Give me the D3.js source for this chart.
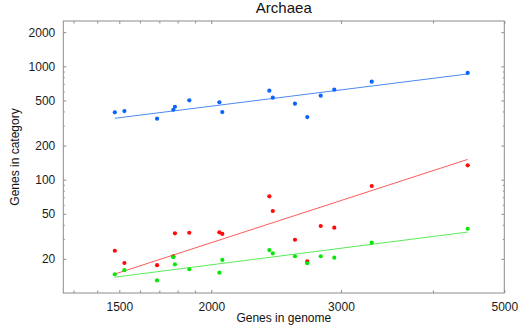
<!DOCTYPE html>
<html><head><meta charset="utf-8">
<script src="https://cdn.jsdelivr.net/npm/d3@7/dist/d3.min.js"></script>
<style>
body{margin:0;background:#fff;}
svg{display:block;font-family:"Liberation Sans",Arial,Helvetica,sans-serif;}
</style></head>
<body>
<svg id="chart" width="529" height="327"></svg>
<script>
// ---- data ----
const genomes = [1479, 1524, 1688, 1776, 1785, 1867, 2051, 2070, 2398, 2424, 2598, 2700, 2816, 2938, 3303, 4459];
const seriesNames = ["blue", "red", "green"];
const blueValues  = [393, 403, 345, 414, 440, 501, 482, 395, 610, 529, 468, 357, 551, 622, 732, 874];
const redValues   = [23.6, 18.4, 17.6, 21.1, 33.6, 34.0, 34.3, 33.2, 71.3, 52.9, 29.5, 19.0, 39.0, 37.7, 87.9, 133.9];
const greenValues = [14.6, 15.9, 12.9, 20.7, 17.9, 16.2, 15.1, 19.6, 23.9, 22.4, 21.1, 18.3, 21.1, 20.5, 27.8, 36.9];
// fitted power-law lines: value at smallest and at largest genome
const fitStartValues = [348, 14.7, 13.8];
const fitEndValues   = [856, 151, 34.5];
const xMajorTicks = [1500, 2000, 3000, 5000];
const xMinorTicks = [1300, 1400, 1600, 1700, 1800, 1900, 4000];
const yMajorTicks = [20, 50, 100, 200, 500, 1000, 2000];
const yMinorTicks = [30, 40, 60, 70, 80, 90, 300, 400, 600, 700, 800, 900];
const title = "Archaea", xLabel = "Genes in genome", yLabel = "Genes in category";

// ---- layout ----
const pointColors = ["#0a64ff", "#ff0a0a", "#0ae60a"];
const lineColors  = ["#4a8af2", "#ff5a5a", "#5aea5a"];
const L = 63.3, R = 504.3, T = 21, B = 293;
const svg = d3.select("#chart");
const x = d3.scaleLog().domain([Math.pow(10, 3.1), 5000]).range([L, R]);
const y = d3.scaleLog().domain([10, Math.pow(10, 3.4)]).range([B, T]);
const frame = "#8c8c8c";

svg.append("rect").attr("x", L).attr("y", T).attr("width", R - L).attr("height", B - T)
  .attr("fill", "none").attr("stroke", frame).attr("stroke-width", 1);

function styleAxis(g, minorSet, len, minorLen, orient) {
  g.select(".domain").remove();
  g.selectAll(".tick line").attr("stroke", frame)
    .each(function(d) {
      const l = minorSet.has(d) ? minorLen : len;
      const el = d3.select(this);
      if (orient === "bottom") el.attr("y2", -l);
      if (orient === "top") el.attr("y2", l);
      if (orient === "left") el.attr("x2", l);
      if (orient === "right") el.attr("x2", -l);
    });
  g.selectAll(".tick text").attr("fill", "#1a1a1a").attr("font-size", 12)
   .attr("font-family", "Liberation Sans, Arial, sans-serif");
}
const xAll = xMajorTicks.concat(xMinorTicks), yAll = yMajorTicks.concat(yMinorTicks);
const xMinSet = new Set(xMinorTicks), yMinSet = new Set(yMinorTicks);
const fmt = d => String(d);

const gb = svg.append("g").attr("transform", `translate(0,${B})`)
  .call(d3.axisBottom(x).tickValues(xAll).tickSizeInner(0).tickSizeOuter(0).tickPadding(9)
    .tickFormat(d => xMinSet.has(d) ? "" : fmt(d)));
styleAxis(gb, xMinSet, 3, 2.5, "bottom");
const gt = svg.append("g").attr("transform", `translate(0,${T})`)
  .call(d3.axisTop(x).tickValues(xAll).tickSizeInner(0).tickSizeOuter(0).tickFormat(""));
styleAxis(gt, xMinSet, 3, 2.5, "top");
const gl = svg.append("g").attr("transform", `translate(${L},0)`)
  .call(d3.axisLeft(y).tickValues(yAll).tickSizeInner(0).tickSizeOuter(0).tickPadding(8)
    .tickFormat(d => yMinSet.has(d) ? "" : fmt(d)));
styleAxis(gl, yMinSet, 3, 1.5, "left");
const gr = svg.append("g").attr("transform", `translate(${R},0)`)
  .call(d3.axisRight(y).tickValues(yAll).tickSizeInner(0).tickSizeOuter(0).tickFormat(""));
styleAxis(gr, yMinSet, 3, 1.5, "right");

// ---- fit lines ----
const gMin = d3.min(genomes), gMax = d3.max(genomes);
const line = d3.line().x(d => x(d[0])).y(d => y(d[1]));
seriesNames.forEach((s, i) => {
  svg.append("path")
    .attr("d", line([[gMin, fitStartValues[i]], [gMax, fitEndValues[i]]]))
    .attr("stroke", lineColors[i]).attr("stroke-width", 1).attr("fill", "none");
});

// ---- points ----
const allValues = [blueValues, redValues, greenValues];
allValues.forEach((vals, i) => {
  svg.append("g").selectAll("circle").data(vals).join("circle")
    .attr("cx", (d, j) => x(genomes[j])).attr("cy", d => y(d))
    .attr("r", 2.1).attr("fill", pointColors[i]);
});

// ---- labels ----
svg.append("text").attr("x", (L + R) / 2).attr("y", 12.5).attr("text-anchor", "middle")
  .attr("font-size", 15).attr("fill", "#111").text(title);
svg.append("text").attr("x", (L + R) / 2).attr("y", 321.5).attr("text-anchor", "middle")
  .attr("font-size", 12).attr("fill", "#111").text(xLabel);
svg.append("text").attr("transform", `translate(19,${(T + B) / 2}) rotate(-90)`)
  .attr("text-anchor", "middle").attr("font-size", 12).attr("fill", "#111").text(yLabel);
</script>
</body></html>
